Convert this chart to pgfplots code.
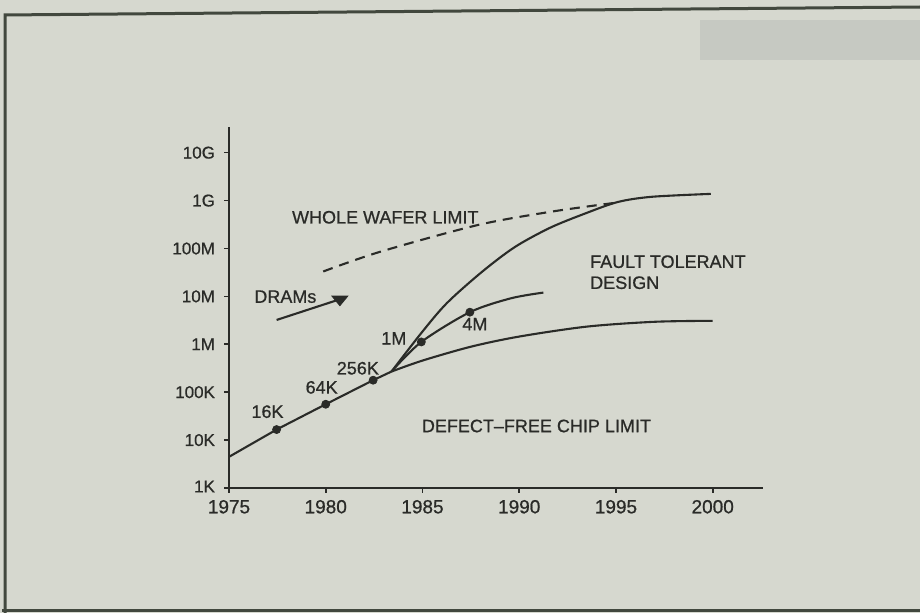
\documentclass[border=0pt]{standalone}
\usepackage{pgfplots}
\pgfplotsset{compat=1.18}
\usepackage{fontspec}
\setmainfont{Liberation Sans}
\newfontfamily\heavy[FakeBold=0.8,Ligatures=TeX]{Liberation Sans}
\definecolor{paper}{RGB}{214,216,207}
\definecolor{ink}{RGB}{42,43,40}
\definecolor{framec}{RGB}{66,72,62}
\definecolor{ghost}{RGB}{198,201,194}
\tikzset{lab/.style={font=\heavy\fontsize{9}{10}\selectfont, text=ink, inner sep=0pt}}
\begin{document}
\begin{tikzpicture}[x=1pt,y=1pt]
\useasboundingbox (0,0) rectangle (460,306.5);
\fill[paper] (0,0) rectangle (460,306.5);
\fill[ghost] (350,276.5) rectangle (460,296.5);
\draw[framec, line width=1.5pt] (461,303) -- (2.5,299) -- (2.5,-1);
\draw[framec, line width=1.5pt] (1,1) -- (461,1);
\begin{axis}[
  at={(114.5pt,62.5pt)}, anchor=south west,
  scale only axis, width=267pt, height=180.5pt,
  xmin=1975, xmax=2002.6, ymode=log, ymin=1e3, ymax=3.44e10,
  axis lines=left, axis line style={-, ink, line width=1pt},
  xtick={1975,1980,1985,1990,1995,2000},
  xticklabels={1975,1980,1985,1990,1995,2000},
  ytick={1e3,1e4,1e5,1e6,1e7,1e8,1e9,1e10},
  yticklabels={\raisebox{1.5pt}{1K},10K,100K,1M,10M,100M,1G,10G},
  yminorticks=false, xminorticks=false,
  tick align=outside, major tick length=2.5pt,
  tick style={ink, line width=0.8pt},
  xticklabel style={font=\heavy\fontsize{9.5}{11}\selectfont, text=ink},
  yticklabel style={font=\heavy\fontsize{8.5}{10}\selectfont, text=ink, xshift=-1pt},
  clip=false,
]
% DRAM trend up to the branch point
\addplot[ink, line width=1.05pt] coordinates {(1975,4467) (1977.46,16600) (1980,56000) (1982.45,178000) (1983.4,270000)};
% defect-free chip limit
\addplot[ink, line width=1.05pt, smooth] coordinates {(1983.4,270000) (1985,457000) (1987.5,890000) (1990,1.45e6) (1993.5,2.34e6) (1997,2.95e6) (2000,3.09e6)};
% fault tolerant design (upper)
\addplot[ink, line width=1.05pt, smooth] coordinates {(1983.4,270000) (1984.95,1.74e6) (1986.26,7.24e6) (1988.07,3.24e7) (1989.77,1.07e8) (1991.58,2.69e8) (1993.34,5.25e8) (1995.09,9.33e8) (1996.85,1.20e9) (1999.9,1.38e9)};
% 4M branch
\addplot[ink, line width=1.05pt, smooth] coordinates {(1983.4,270000) (1984.94,1.12e6) (1987.45,4.68e6) (1989.57,9.12e6) (1991.25,1.20e7)};
% whole wafer limit
\addplot[ink, line width=1.05pt, dashed, dash pattern=on 5pt off 3.5pt, smooth] coordinates {(1979.87,3.31e7) (1982.8,8.51e7) (1987.86,3.09e8) (1991.68,5.89e8) (1994.89,8.91e8)};
% DRAM generations
\addplot[ink, only marks, mark=*, mark size=2pt] coordinates {(1977.46,16600) (1980,56000) (1982.45,178000) (1984.94,1.12e6) (1987.45,4.68e6)};
% DRAMs arrow
\addplot[ink, line width=1.05pt] coordinates {(1977.46,3.22e6) (1980.73,8.7e6)};
\addplot[ink, only marks, mark=triangle*, mark size=4.6pt, mark options={rotate=180, yscale=0.7}] coordinates {(1980.73,8.7e6)};
% labels
\node[lab, anchor=west] at (axis cs:1978.24,4.48e8) {WHOLE WAFER LIMIT};
\node[lab, anchor=west] at (axis cs:1976.29,9.86e6) {DRAMs};
\node[lab, anchor=west] at (axis cs:1993.65,5.30e7) {FAULT TOLERANT};
\node[lab, anchor=west] at (axis cs:1993.65,1.93e7) {DESIGN};
\node[lab, anchor=west] at (axis cs:1984.95,1.97e4) {DEFECT\textendash FREE CHIP LIMIT};
\node[lab] at (axis cs:1976.99,3.92e4) {16K};
\node[lab] at (axis cs:1979.79,1.26e5) {64K};
\node[lab] at (axis cs:1981.66,3.16e5) {256K};
\node[lab] at (axis cs:1983.52,1.33e6) {1M};
\node[lab] at (axis cs:1987.71,2.63e6) {4M};
\end{axis}
\end{tikzpicture}
\end{document}
